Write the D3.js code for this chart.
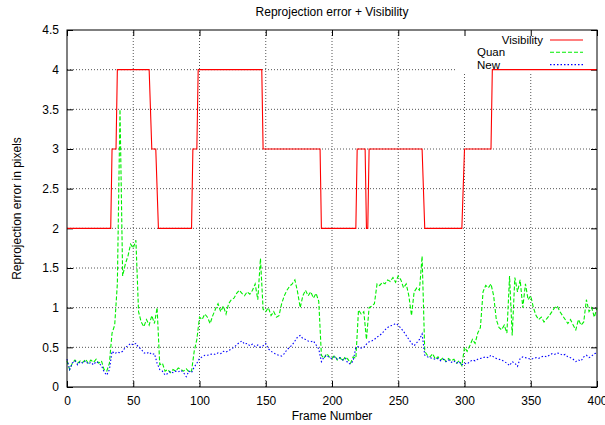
<!DOCTYPE html>
<html lang="en">
<head>
<meta charset="UTF-8">
<title>Reprojection error + Visibility</title>
<script src="https://d3js.org/d3.v7.min.js"></script>
<style>
  body { margin: 0; background: #fff; }
  svg { display: block; font-family: "Liberation Sans", Arial, sans-serif; }
  .grid line { stroke: #555; stroke-width: 1; stroke-dasharray: 1,2; }
  .tick-label { font-size: 12px; fill: #000; }
  .Visibility { stroke: #ff0000; stroke-width: 1.1; fill: none; }
  .Quan { stroke: #00ee00; stroke-width: 1.1; fill: none; stroke-dasharray: 4,2; }
  .New { stroke: #0000ff; stroke-width: 1.1; fill: none; stroke-dasharray: 1.5,2; }
</style>
</head>
<body>
<script>
// visibility step line (vertices)
const visFrames = [0,33,34,37,38,62,64,67,69,94,95,98,99,147,148,191,192,218,219,225,226,227,228,268,270,298,300,320,321,400];
const visValues = [2,2,3,3,4,4,3,3,2,2,3,3,4,4,3,3,2,2,3,3,2,2,3,3,2,2,3,3,4,4];

// Quan and New: one value every 2 frames, from frame 0 to 400
const frameStep = 2;
const quan = [
  0.33,0.22,0.30,0.34,0.30,0.33,0.31,0.35,0.30,0.34, 0.31,0.35,0.30,0.33,0.22,0.20,0.30,0.68,0.78,1.30,
  3.50,1.40,1.55,1.65,1.80,1.75,1.85,0.95,0.82,0.76, 0.85,0.78,0.90,0.80,1.00,0.28,0.30,0.20,0.22,0.18,
  0.22,0.20,0.24,0.22,0.20,0.23,0.19,0.20,0.45,0.60, 0.88,0.85,0.92,0.88,0.80,0.90,0.98,1.05,0.95,1.02,
  0.92,1.05,1.10,1.12,1.18,1.22,1.18,1.15,1.20,1.17, 1.22,1.30,1.10,1.62,0.98,0.95,1.00,0.90,0.95,0.88,
  0.90,1.05,1.15,1.22,1.27,1.30,1.35,1.20,1.00,1.15, 1.22,1.15,1.20,1.12,1.18,1.08,0.40,0.36,0.42,0.38,
  0.36,0.40,0.34,0.37,0.33,0.38,0.35,0.30,0.38,0.36, 0.97,0.92,0.95,0.60,1.00,1.02,1.05,1.30,1.28,1.32,
  1.30,1.35,1.33,1.38,1.32,1.40,1.35,1.25,1.30,1.15, 0.90,1.20,1.25,1.22,1.65,0.45,0.40,0.38,0.42,0.35,
  0.38,0.34,0.37,0.32,0.36,0.33,0.35,0.30,0.33,0.27, 0.50,0.45,0.52,0.60,0.55,0.68,0.75,1.20,1.28,1.25,
  1.30,1.15,0.85,0.75,0.72,0.78,0.68,1.40,0.65,1.38, 1.20,1.35,1.00,1.30,1.10,1.15,1.00,0.90,0.85,0.88,
  0.82,0.86,0.90,0.95,1.00,1.02,0.95,0.90,0.85,0.80, 0.85,0.78,0.72,0.85,0.78,0.82,1.10,0.95,1.00,0.88,
  1.00
];
const newErr = [
  0.35,0.22,0.30,0.33,0.28,0.32,0.30,0.33,0.29,0.31, 0.28,0.32,0.30,0.27,0.19,0.15,0.22,0.45,0.42,0.44,
  0.43,0.45,0.50,0.52,0.55,0.53,0.55,0.50,0.48,0.43, 0.42,0.44,0.41,0.42,0.30,0.22,0.20,0.15,0.17,0.20,
  0.18,0.20,0.19,0.21,0.18,0.13,0.20,0.18,0.25,0.30, 0.36,0.38,0.40,0.40,0.41,0.42,0.41,0.43,0.42,0.45,
  0.44,0.46,0.48,0.50,0.53,0.56,0.58,0.54,0.55,0.52, 0.54,0.51,0.53,0.50,0.52,0.55,0.48,0.45,0.43,0.41,
  0.40,0.39,0.42,0.47,0.50,0.53,0.58,0.63,0.65,0.61, 0.60,0.58,0.57,0.58,0.53,0.48,0.32,0.38,0.40,0.37,
  0.36,0.38,0.35,0.37,0.34,0.36,0.30,0.29,0.33,0.50, 0.51,0.49,0.50,0.54,0.57,0.58,0.60,0.63,0.65,0.68,
  0.72,0.75,0.77,0.78,0.80,0.78,0.74,0.70,0.65,0.60, 0.55,0.52,0.56,0.60,0.67,0.40,0.38,0.37,0.36,0.35,
  0.36,0.33,0.35,0.32,0.34,0.31,0.33,0.30,0.32,0.28, 0.30,0.29,0.32,0.34,0.33,0.35,0.36,0.37,0.38,0.37,
  0.40,0.38,0.36,0.35,0.34,0.32,0.30,0.27,0.32,0.30, 0.26,0.36,0.38,0.37,0.36,0.35,0.36,0.37,0.36,0.38,
  0.39,0.38,0.40,0.42,0.41,0.43,0.42,0.40,0.41,0.38, 0.37,0.35,0.32,0.34,0.33,0.38,0.40,0.37,0.39,0.42,
  0.43
];

const xTicks = [0,50,100,150,200,250,300,350,400];
const yTicks = [0,0.5,1,1.5,2,2.5,3,3.5,4,4.5];

const width = 605, height = 425;
const margins = {top: 30, bottom: 38, left: 67, right: 8};

const svg = d3.select("body").append("svg")
    .attr("width", width).attr("height", height);

const xScale = d3.scaleLinear().domain([0, 400]).range([margins.left, width - margins.right]);
const yScale = d3.scaleLinear().domain([0, 4.5]).range([height - margins.bottom, margins.top]);
const x0 = xScale.range()[0], x1 = xScale.range()[1];
const y0 = yScale.range()[0], y1 = yScale.range()[1];

// grid
const grid = svg.append("g").attr("class", "grid");
grid.selectAll(".gx").data(xTicks.slice(1, -1)).enter().append("line")
    .attr("x1", d => xScale(d)).attr("x2", d => xScale(d))
    .attr("y1", y0).attr("y2", y1);
grid.selectAll(".gy").data(yTicks.slice(1, -1)).enter().append("line")
    .attr("x1", x0).attr("x2", x1)
    .attr("y1", d => yScale(d)).attr("y2", d => yScale(d));

// key area hides the grid
svg.append("rect")
    .attr("x", 455).attr("y", y1 + 1)
    .attr("width", x1 - 455 - 1).attr("height", 42)
    .attr("fill", "#fff");

// axes with mirrored inward ticks
const tickLen = 6;
svg.append("g").attr("transform", `translate(0,${y0})`)
    .call(d3.axisBottom(xScale).tickValues(xTicks).tickSize(-tickLen).tickPadding(9).tickFormat(d3.format("d")))
    .call(g => g.select(".domain").remove());
svg.append("g").attr("transform", `translate(0,${y1})`)
    .call(d3.axisTop(xScale).tickValues(xTicks).tickSize(-tickLen).tickFormat(""))
    .call(g => g.select(".domain").remove());
svg.append("g").attr("transform", `translate(${x0},0)`)
    .call(d3.axisLeft(yScale).tickValues(yTicks).tickSize(-tickLen).tickPadding(8).tickFormat(d => d))
    .call(g => g.select(".domain").remove());
svg.append("g").attr("transform", `translate(${x1},0)`)
    .call(d3.axisRight(yScale).tickValues(yTicks).tickSize(-tickLen).tickFormat(""))
    .call(g => g.select(".domain").remove());
svg.selectAll(".tick text").attr("class", "tick-label").attr("font-family", null).attr("font-size", null);
svg.selectAll(".tick line").attr("stroke", "#000");

// lines
const quanData = quan.map((v, i) => ({f: i * frameStep, v: v}));
const newData = newErr.map((v, i) => ({f: i * frameStep, v: v}));
const visData = visFrames.map((f, i) => ({f: f, v: visValues[i]}));
const lineGen = d3.line().x(d => xScale(d.f)).y(d => yScale(d.v));

svg.append("path").attr("class", "Visibility").attr("d", lineGen(visData));
svg.append("path").attr("class", "Quan").attr("d", lineGen(quanData));
svg.append("path").attr("class", "New").attr("d", lineGen(newData));

// border
svg.append("rect")
    .attr("x", x0).attr("y", y1).attr("width", x1 - x0).attr("height", y0 - y1)
    .attr("fill", "none").attr("stroke", "#000").attr("stroke-width", 1);

// legend
const legendItems = [
  {name: "Visibility", cls: "Visibility", tx: 543, anchor: "end"},
  {name: "Quan", cls: "Quan", tx: 477, anchor: "start"},
  {name: "New", cls: "New", tx: 477, anchor: "start"}
];
const legend = svg.append("g").selectAll("g").data(legendItems).enter().append("g")
    .attr("transform", (d, i) => `translate(0,${40 + i * 12.3})`);
legend.append("text")
    .attr("x", d => d.tx).attr("y", 4)
    .attr("text-anchor", d => d.anchor)
    .attr("font-size", "11.5px")
    .text(d => d.name);
legend.append("line")
    .attr("class", d => d.cls)
    .attr("x1", 550).attr("x2", 583).attr("y1", 0).attr("y2", 0);

// titles
svg.append("text")
    .attr("x", (x0 + x1) / 2).attr("y", 16)
    .attr("text-anchor", "middle").attr("font-size", "12px")
    .text("Reprojection error + Visibility");
svg.append("text")
    .attr("x", (x0 + x1) / 2).attr("y", 420)
    .attr("text-anchor", "middle").attr("font-size", "12px")
    .text("Frame Number");
svg.append("text")
    .attr("transform", `translate(21,${(y0 + y1) / 2}) rotate(-90)`)
    .attr("text-anchor", "middle").attr("font-size", "12px")
    .text("Reprojection error in pixels");
</script>
</body>
</html>
